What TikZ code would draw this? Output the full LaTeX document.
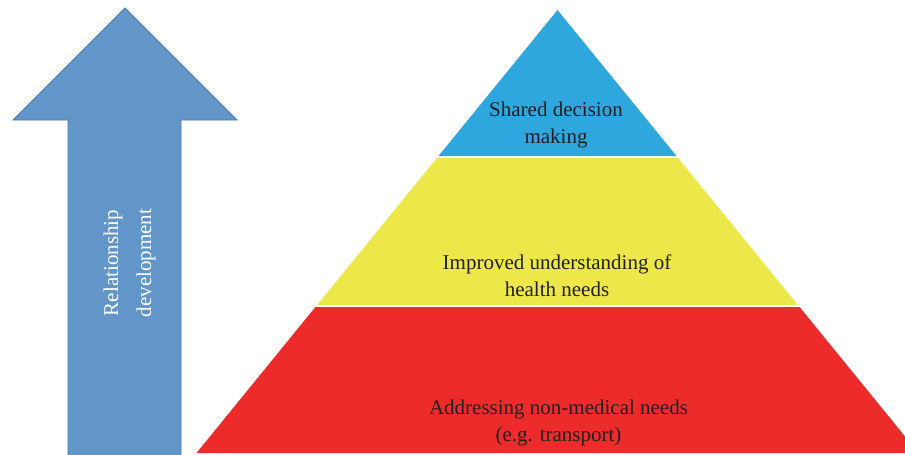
\documentclass[tikz,border=0pt]{standalone}
\usepackage{fontspec}
\setmainfont{Liberation Serif}
\definecolor{arrowblue}{RGB}{98,150,200}
\definecolor{arrowedge}{RGB}{74,120,170}
\definecolor{topblue}{RGB}{46,166,222}
\definecolor{midyellow}{RGB}{237,232,74}
\definecolor{basered}{RGB}{236,43,42}
\definecolor{labelgray}{RGB}{35,31,32}
\tikzset{
  layertext/.style={font=\fontsize{21}{27}\selectfont, text=labelgray, align=center},
  arrowtext/.style={font=\fontsize{21}{33}\selectfont, text=white, align=center, rotate=90}
}
\begin{document}
\begin{tikzpicture}[x=1pt,y=-1pt]
  \useasboundingbox (0,0) rectangle (905,455);
  \clip (0,0) rectangle (905,455);
  \draw[arrowedge, fill=arrowblue, line width=0.8pt]
    (68,456) -- (68,120) -- (13,120) -- (125,8) -- (237,120) -- (181,120) -- (181,456);
  \node[arrowtext] (growth) at (129.5,263) {Relationship\\development};
  \fill[topblue] (557.5,10) -- (676.5,156) -- (438.5,156) -- cycle;
  \fill[midyellow] (436.9,158) -- (678.1,158) -- (797.9,305) -- (317.1,305) -- cycle;
  \fill[basered] (315.4,307) -- (799.6,307) -- (918.5,453) -- (196.5,453) -- cycle;
  \node[layertext] (decision) at (556,124.5) {Shared decision\\making};
  \node[layertext] (understanding) at (557,276) {Improved understanding of\\health needs};
  \node[layertext] (needs) at (558.5,423) {Addressing non-medical needs\\(e.g. transport)};
\end{tikzpicture}
\end{document}
